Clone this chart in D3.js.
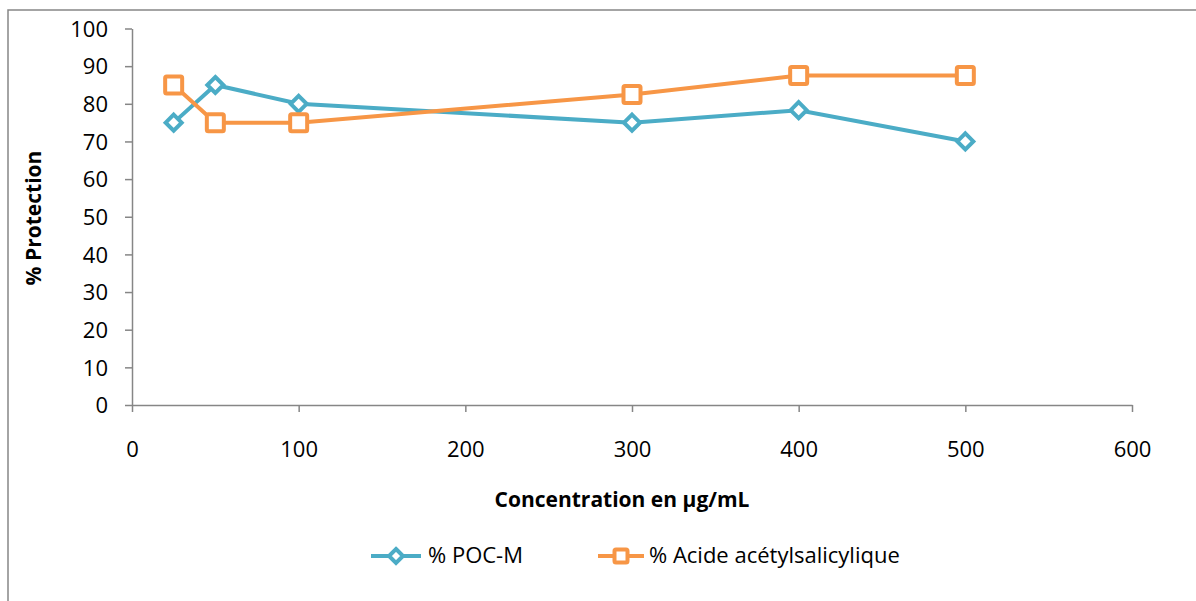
<!DOCTYPE html>
<html><head><meta charset="utf-8">
<script src="https://cdn.jsdelivr.net/npm/d3@7"></script>
<style>
html,body{margin:0;padding:0;background:#fff;}
svg{display:block;font-family:"Open Sans",sans-serif;}
</style></head>
<body>
<svg id="c" width="1196" height="601"></svg>
<script>
const concentrations = [25, 50, 100, 300, 400, 500];
const pocM = [75, 85, 80, 75, 78.3, 70];
const acideAcetylsalicylique = [85, 75, 75, 82.5, 87.5, 87.5];
const seriesNames = ["% POC-M", "% Acide acétylsalicylique"];
const xTicks = [0, 100, 200, 300, 400, 500, 600];
const yTicks = [0, 10, 20, 30, 40, 50, 60, 70, 80, 90, 100];
const xTitle = "Concentration en µg/mL";
const yTitle = "% Protection";

const blue = "#4bacc6", orange = "#f79646", axisCol = "#868686";
const svg = d3.select("#c");

// outer chart border
svg.append("rect").attr("x", 8).attr("y", 10).attr("width", 1200).attr("height", 620)
  .attr("fill", "none").attr("stroke", axisCol).attr("stroke-width", 1.5);

const x = d3.scaleLinear().domain([0, 600]).range([132, 1132]);
const y = d3.scaleLinear().domain([0, 100]).range([405, 28.5]);

const gx = svg.append("g").attr("transform", `translate(0,${y(0)})`)
  .call(d3.axisBottom(x).tickValues(xTicks).tickSize(7).tickSizeOuter(0).tickPadding(29).tickFormat(d3.format("d")));
const gy = svg.append("g").attr("transform", `translate(${x(0)},0)`)
  .call(d3.axisLeft(y).tickValues(yTicks).tickSize(7).tickSizeOuter(0).tickPadding(17).tickFormat(d3.format("d")));
[gx, gy].forEach(g => {
  g.select(".domain").attr("stroke", axisCol).attr("stroke-width", 1.5);
  g.selectAll(".tick line").attr("stroke", axisCol).attr("stroke-width", 1.5);
  g.selectAll(".tick text").attr("fill", "#000").attr("font-size", 22).attr("font-family", "Open Sans");
});
gy.selectAll(".tick text").attr("dy", "0.35em");

svg.append("text").attr("x", 622).attr("y", 507).attr("text-anchor", "middle")
  .attr("font-weight", "bold").attr("font-size", 21).text(xTitle);
svg.append("text").attr("transform", "translate(41,218) rotate(-90)").attr("text-anchor", "middle")
  .attr("font-weight", "bold").attr("font-size", 21).text(yTitle);

const line = d3.line().x(d => x(d[0])).y(d => y(d[1]));
const dPoc = concentrations.map((c, i) => [c, pocM[i]]);
const dAc = concentrations.map((c, i) => [c, acideAcetylsalicylique[i]]);

const diamond = (g, cx, cy, col) => g.append("path")
  .attr("d", `M${cx},${cy-8}L${cx+8},${cy}L${cx},${cy+8}L${cx-8},${cy}Z`)
  .attr("fill", "#fff").attr("stroke", col).attr("stroke-width", 4);
const square = (g, cx, cy, col) => g.append("rect")
  .attr("x", cx-8.5).attr("y", cy-8.5).attr("width", 17).attr("height", 17).attr("rx", 1.5)
  .attr("fill", "#fff").attr("stroke", col).attr("stroke-width", 4);

svg.append("path").datum(dPoc).attr("d", line).attr("fill", "none").attr("stroke", blue).attr("stroke-width", 4);
svg.append("path").datum(dAc).attr("d", line).attr("fill", "none").attr("stroke", orange).attr("stroke-width", 4);
const mk = svg.append("g");
dPoc.forEach(d => diamond(mk, x(d[0]), y(d[1]), blue));
dAc.forEach(d => square(mk, x(d[0]), y(d[1]), orange));

// legend
const lg = svg.append("g");
const ly = 556;
lg.append("line").attr("x1", 371).attr("x2", 421).attr("y1", ly).attr("y2", ly).attr("stroke", blue).attr("stroke-width", 4);
diamond(lg, 396, ly, blue).attr("d", `M396,${ly-7}L403,${ly}L396,${ly+7}L389,${ly}Z`);
lg.append("text").attr("x", 428).attr("y", ly + 7).attr("font-size", 22).text(seriesNames[0]);
lg.append("line").attr("x1", 598).attr("x2", 644).attr("y1", ly).attr("y2", ly).attr("stroke", orange).attr("stroke-width", 4);
square(lg, 621, ly, orange).attr("x", 614.5).attr("y", ly-6.5).attr("width", 13).attr("height", 13);
lg.append("text").attr("x", 649).attr("y", ly + 7).attr("font-size", 22).text(seriesNames[1]);
</script>
</body></html>
